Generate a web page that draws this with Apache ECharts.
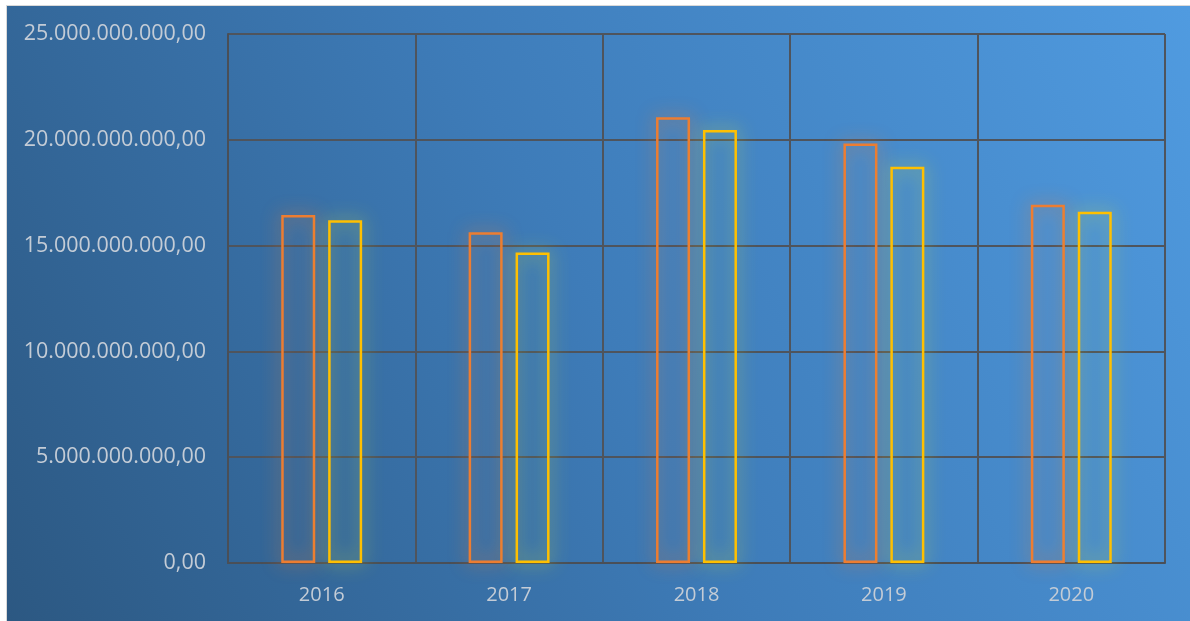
<!DOCTYPE html>
<html>
<head>
<meta charset="utf-8">
<script src="https://cdn.jsdelivr.net/npm/echarts@6/dist/echarts.min.js"></script>
<style>
html,body{margin:0;padding:0;background:#ffffff;width:1190px;height:621px;overflow:hidden;}
#frame{position:absolute;left:6px;top:5px;width:1184px;height:616px;background:#d9d9d9;}
#chart{position:absolute;left:7px;top:6px;width:1183px;height:615px;}
</style>
</head>
<body>
<div id="frame"></div>
<div id="chart"></div>
<script>
const categories = ['2016', '2017', '2018', '2019', '2020'];
const seriesA = [16450000000, 15630000000, 21060000000, 19820000000, 16930000000];
const seriesB = [16200000000, 14670000000, 20460000000, 18730000000, 16600000000];
const yTicks = [0, 5000000000, 10000000000, 15000000000, 20000000000, 25000000000];

function fmt(v) {
  const s = Math.round(v).toString().replace(/\B(?=(\d{3})+(?!\d))/g, '.');
  return s + ',00';
}

const chart = echarts.init(document.getElementById('chart'));
chart.setOption({
  backgroundColor: new echarts.graphic.LinearGradient(0, 1, 1, 0, [
    {offset: 0, color: '#2C5882'},
    {offset: 0.5, color: '#3E7CB9'},
    {offset: 1, color: '#509BE0'}
  ]),
  animation: false,
  grid: {left: 221, top: 28, right: 25, bottom: 58, containLabel: false},
  xAxis: {
    type: 'category',
    data: categories,
    axisLine: {show: true, lineStyle: {color: '#4a4f57', width: 2}},
    axisTick: {show: false},
    splitLine: {show: true, lineStyle: {color: '#4f545c', width: 2}},
    axisLabel: {color: '#c4ccd6', fontSize: 20, fontFamily: 'Open Sans', margin: 22}
  },
  yAxis: {
    type: 'value',
    min: yTicks[0],
    max: yTicks[yTicks.length - 1],
    interval: 5000000000,
    axisLine: {show: true, lineStyle: {color: '#4a4f57', width: 2}},
    axisTick: {show: false},
    splitLine: {show: true, lineStyle: {color: '#4f545c', width: 2}},
    axisLabel: {color: '#c4ccd6', fontSize: 21.5, fontFamily: 'Open Sans', margin: 22, formatter: fmt}
  },
  series: [
    {
      type: 'bar',
      data: seriesA,
      barWidth: 34,
      barGap: '38%',
      itemStyle: {
        color: 'rgba(0,0,0,0)',
        borderColor: '#ED7D31',
        borderWidth: 2.5,
        shadowColor: 'rgba(237,125,49,0.95)',
        shadowBlur: 18
      }
    },
    {
      type: 'bar',
      data: seriesB,
      barWidth: 34,
      barGap: '38%',
      itemStyle: {
        color: 'rgba(0,0,0,0)',
        borderColor: '#FFC000',
        borderWidth: 2.5,
        shadowColor: 'rgba(210,225,60,0.95)',
        shadowBlur: 18
      }
    }
  ]
});
</script>
</body>
</html>
